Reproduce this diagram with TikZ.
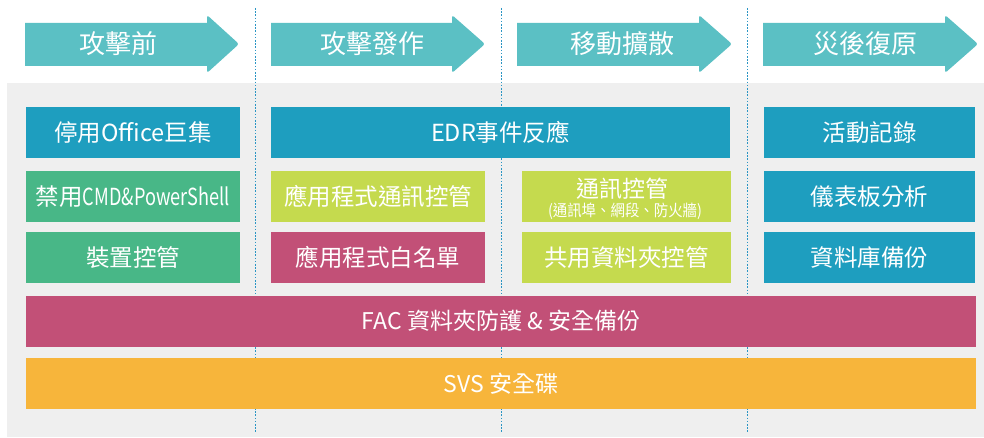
\documentclass[tikz,border=0pt]{standalone}
\usepackage{fontspec}
\usepackage{graphicx}
\setmainfont{Noto Sans CJK TC}
\definecolor{arrowteal}{HTML}{5BC0C4}
\definecolor{cblue}{HTML}{1E9EBF}
\definecolor{cgreen}{HTML}{48B787}
\definecolor{clime}{HTML}{C5DA4E}
\definecolor{cmag}{HTML}{C25077}
\definecolor{corange}{HTML}{F7B53B}
\definecolor{cgray}{HTML}{EFEFEF}
\definecolor{cdot}{HTML}{2A95C4}
\begin{document}
\begin{tikzpicture}[x=1pt,y=-1pt,
  phase/.style={fill=arrowteal, rounded corners=2.5pt},
  phasetext/.style={text=white, font=\fontsize{26}{28}\selectfont, inner sep=0pt},
  box/.style={text=white, font=\fontsize{23.5}{26}\selectfont, inner sep=0pt, minimum height=50.7pt},
  sep/.style={cdot, line width=1.6pt, dash pattern=on 1.6pt off 1.6pt}]
\useasboundingbox (0,0) rectangle (984,438);
\fill[white] (0,0) rectangle (984,438);
\fill[cgray] (7,83) rectangle (984,437);
% separators
\coordinate (s1t) at (255.5,8); \coordinate (s1b) at (255.5,433);
\coordinate (s2t) at (501.5,8); \coordinate (s2b) at (501.5,433);
\coordinate (s3t) at (747.5,8); \coordinate (s3b) at (747.5,433);
\draw[sep] (s1t) -- (s1b);
\draw[sep] (s2t) -- (s2b);
\draw[sep] (s3t) -- (s3b);
% phase arrows
\fill[phase] (25,23) [sharp corners] -- (207,23) [rounded corners=2.5pt] -- (207,15) -- (239,44) -- (207,73) [sharp corners] -- (207,66) -- (25,66) -- cycle;
\fill[phase] (271,23) [sharp corners] -- (452,23) [rounded corners=2.5pt] -- (452,15) -- (485,44) -- (452,73) [sharp corners] -- (452,66) -- (271,66) -- cycle;
\fill[phase] (517,23) [sharp corners] -- (699,23) [rounded corners=2.5pt] -- (699,15) -- (732,44) -- (699,73) [sharp corners] -- (699,66) -- (517,66) -- cycle;
\fill[phase] (763,23) [sharp corners] -- (945,23) [rounded corners=2.5pt] -- (945,15) -- (978,44) -- (945,73) [sharp corners] -- (945,66) -- (763,66) -- cycle;
\node[phasetext] (p1) at (118.5,44) {攻擊前};
\node[phasetext] (p2) at (372.5,44) {攻擊發作};
\node[phasetext] (p3) at (622.5,44) {移動擴散};
\node[phasetext] (p4) at (865.5,44) {災後復原};
% column 1
\node[box, fill=cblue, minimum width=214pt, minimum height=51pt] (b11) at (133,132.2) {停用Office巨集};
\node[box, fill=cgreen, minimum width=214pt] (b12) at (133,196.3) {禁用\resizebox{147pt}{\height}{CMD\&PowerShell}};
\node[box, fill=cgreen, minimum width=214pt] (b13) at (133,257.3) {裝置控管};
% column 2
\node[box, fill=cblue, minimum width=459pt, minimum height=51pt] (edr) at (500.5,132.2) {EDR事件反應};
\node[box, fill=clime, minimum width=214pt] (b22) at (378,196.3) {應用程式通訊控管};
\node[box, fill=cmag, minimum width=214pt] (b23) at (378,257.3) {應用程式白名單};
% column 3
\node[box, fill=clime, minimum width=209pt] (b32) at (626.5,196.3) {};
\node[text=white, font=\fontsize{23}{25}\selectfont, inner sep=0pt] (b32a) at (622.5,188.5) {通訊控管};
\node[text=white, font=\fontsize{16}{17}\selectfont, inner sep=0pt] (b32b) at (625,211.5) {\resizebox{154pt}{\height}{(通訊埠、網段、防火牆)}};
\node[box, fill=clime, minimum width=209pt] (b33) at (626.5,257.3) {共用資料夾控管};
% column 4
\node[box, fill=cblue, minimum width=211pt, minimum height=51pt] (b41) at (869.5,132.2) {活動記錄};
\node[box, fill=cblue, minimum width=211pt] (b42) at (869.5,196.3) {儀表板分析};
\node[box, fill=cblue, minimum width=211pt] (b43) at (869.5,257.3) {資料庫備份};
% bars
\node[box, fill=cmag, minimum width=950pt, minimum height=51pt, font=\fontsize{23}{25}\selectfont] (fac) at (501,321.2) {FAC 資料夾防護 \& 安全備份};
\node[box, fill=corange, minimum width=950pt, font=\fontsize{23}{25}\selectfont] (svs) at (501,383.3) {SVS 安全碟};
\end{tikzpicture}
\end{document}
